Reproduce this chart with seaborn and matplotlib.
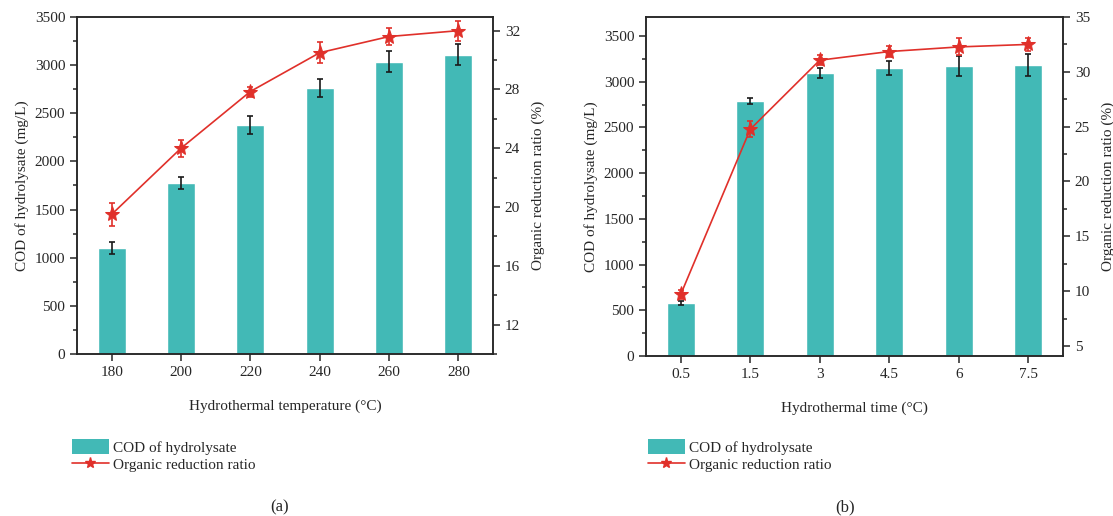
import seaborn as sns
import matplotlib.pyplot as plt
from matplotlib.ticker import MultipleLocator
from matplotlib.lines import Line2D
from matplotlib.patches import Patch

# panel (a): hydrothermal temperature
temp_labels = ["180", "200", "220", "240", "260", "280"]
temp_cod = [1104, 1774, 2375, 2764, 3035, 3108]
temp_cod_err = [62, 62, 94, 92, 108, 109]
temp_ratio = [19.5, 24.0, 27.86, 30.5, 31.6, 32.0]
temp_ratio_err = [0.77, 0.57, 0.34, 0.7, 0.57, 0.68]

# panel (b): hydrothermal time
time_labels = ["0.5", "1.5", "3", "4.5", "6", "7.5"]
time_cod = [580, 2789, 3095, 3150, 3172, 3183]
time_cod_err = [26, 29, 58, 80, 109, 120]
time_ratio = [9.7, 24.76, 31.06, 31.85, 32.27, 32.5]
time_ratio_err = [0.39, 0.71, 0.44, 0.48, 0.77, 0.6]

teal = "#42b9b6"
red = "#e0302a"

sns.set_style("ticks")
plt.rcParams['font.family'] = ['Liberation Serif', 'DejaVu Serif']
plt.rcParams['font.size'] = 11
plt.rcParams['axes.linewidth'] = 1.1

fig = plt.figure(figsize=(11.13, 5.16), dpi=100)
ax_a = fig.add_axes([77 / 1113, 1 - 354 / 516, 416 / 1113, 337 / 516])
ax_b = fig.add_axes([646 / 1113, 1 - 356 / 516, 417 / 1113, 339 / 516])


def draw_panel(ax, labels, cod, cod_err, ratio, ratio_err, xlabel, ylim1, ylim2, major2, minor2):
    sns.barplot(x=labels, y=cod, color=teal, width=0.4, saturation=1, ax=ax, errorbar=None)
    xs = range(len(labels))
    ax.errorbar(xs, cod, yerr=cod_err, fmt='none', ecolor='#1a1a1a', elinewidth=1.2, capsize=2.5, capthick=1.2)
    ax.set_ylim(*ylim1)
    ax.yaxis.set_major_locator(MultipleLocator(500))
    ax.yaxis.set_minor_locator(MultipleLocator(250))
    ax.set_xlabel(xlabel, labelpad=15)
    ax.set_ylabel("COD of hydrolysate (mg/L)")
    ax.tick_params(direction='out', length=5, width=1.1, labelsize=11)
    ax.tick_params(which='minor', direction='out', length=3, width=1.1)
    ax.tick_params(axis='x', which='minor', bottom=False)
    for s in ax.spines.values():
        s.set_visible(True)

    ax2 = ax.twinx()
    sns.lineplot(x=list(xs), y=ratio, color=red, lw=1.2, marker='*', markersize=11,
                 markeredgecolor=red, ax=ax2)
    ax2.errorbar(xs, ratio, yerr=ratio_err, fmt='none', ecolor=red, elinewidth=1.2, capsize=2.5, capthick=1.2)
    ax2.set_ylim(*ylim2)
    ax2.yaxis.set_major_locator(MultipleLocator(major2))
    ax2.yaxis.set_minor_locator(MultipleLocator(minor2))
    ax2.set_ylabel("Organic reduction ratio (%)", labelpad=8)
    ax2.tick_params(direction='out', length=5, width=1.1, labelsize=11)
    ax2.tick_params(which='minor', direction='out', length=3, width=1.1)
    ax.set_xlim(-0.5, 5.5)
    ax2.set_xlim(-0.5, 5.5)
    ax.set_xticks(list(xs))
    ax.set_xticklabels(labels)


draw_panel(ax_a, temp_labels, temp_cod, temp_cod_err, temp_ratio, temp_ratio_err,
           "Hydrothermal temperature (°C)", (0, 3500), (10, 32.93), 4, 2)
draw_panel(ax_b, time_labels, time_cod, time_cod_err, time_ratio, time_ratio_err,
           "Hydrothermal time (°C)", (0, 3708), (4.08, 35), 5, 2.5)

handles = [Patch(facecolor=teal, edgecolor='none'),
           Line2D([0], [0], color=red, lw=1.2, marker='*', markersize=8)]
names = ["COD of hydrolysate", "Organic reduction ratio"]
for x0 in (72 / 1113, 648 / 1113):
    fig.legend(handles, names, loc='upper left', bbox_to_anchor=(x0, 1 - 439 / 516),
               frameon=False, borderpad=0, borderaxespad=0, handlelength=2.4,
               handleheight=1.1, handletextpad=0.3, labelspacing=0.15, fontsize=11)

fig.text(280 / 1113, 1 - 507 / 516, "(a)", ha='center', va='center', fontsize=12)
fig.text(845 / 1113, 1 - 507 / 516, "(b)", ha='center', va='center', fontsize=12)

fig.savefig("out.png", dpi=100)
